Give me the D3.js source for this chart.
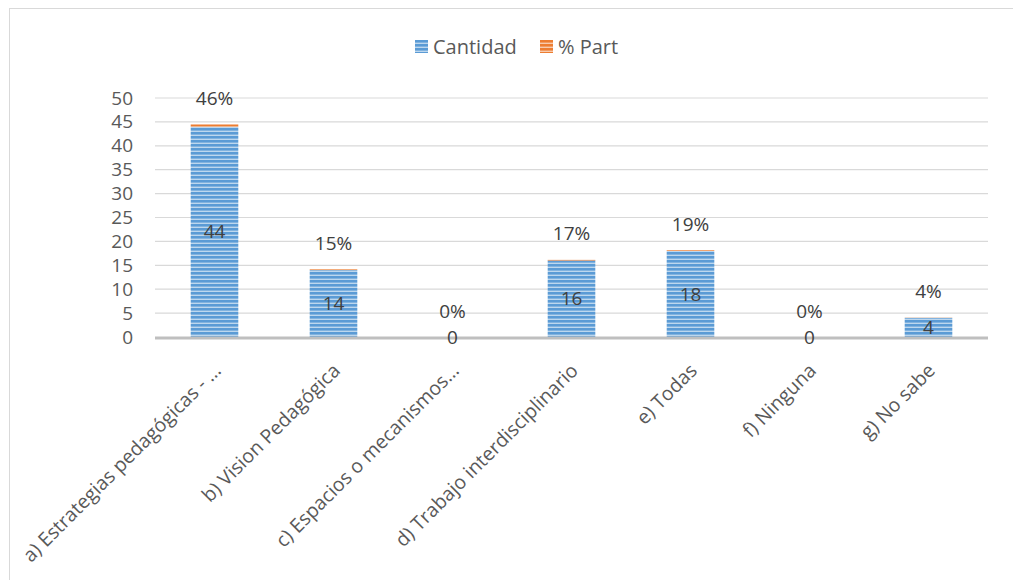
<!DOCTYPE html>
<html>
<head>
<meta charset="utf-8">
<script src="https://cdn.jsdelivr.net/npm/d3@7"></script>
<style>
  body { margin: 0; background: #fff; }
  svg { display: block; font-family: "Open Sans", sans-serif; }
</style>
</head>
<body>
<div id="chart"></div>
<script>
const categories = [
  "a) Estrategias pedagógicas - …",
  "b) Vision Pedagógica",
  "c) Espacios o mecanismos…",
  "d) Trabajo interdisciplinario",
  "e) Todas",
  "f) Ninguna",
  "g) No sabe"
];
const cantidad = [44, 14, 0, 16, 18, 0, 4];
const part = [0.46, 0.15, 0, 0.17, 0.19, 0, 0.04];
const yTicks = [0, 5, 10, 15, 20, 25, 30, 35, 40, 45, 50];
const seriesNames = ["Cantidad", "% Part"];

const width = 1013, height = 580;
const textColor = "#595959";
const blue = "#5b9bd5", orange = "#ed7d31";

const svg = d3.select("#chart").append("svg")
  .attr("width", width)
  .attr("height", height);

// striped fills like the excel pattern
const defs = svg.append("defs");
function stripes(id, dark, light) {
  const p = defs.append("pattern")
    .attr("id", id)
    .attr("patternUnits", "userSpaceOnUse")
    .attr("width", 8).attr("height", 4);
  p.append("rect").attr("width", 8).attr("height", 4).attr("fill", dark);
  p.append("rect").attr("y", 2.6).attr("width", 8).attr("height", 1.4).attr("fill", light);
}
stripes("stripeBlue", blue, "#bdd7ee");
stripes("stripeOrange", orange, "#f8cbad");

// chart frame
svg.append("rect")
  .attr("x", 9.5).attr("y", 8.5)
  .attr("width", width).attr("height", height)
  .attr("fill", "none")
  .attr("stroke", "#d9d9d9");

const x = d3.scaleBand()
  .domain(categories)
  .range([155, 988])
  .paddingInner(0.6)
  .paddingOuter(0.3);

const y = d3.scaleLinear().domain([0, 50]).range([337, 98]);

// gridlines
svg.append("g")
  .selectAll("line")
  .data(yTicks.slice(1))
  .join("line")
  .attr("x1", 155).attr("x2", 988)
  .attr("y1", d => y(d)).attr("y2", d => y(d))
  .attr("stroke", "#d9d9d9")
  .attr("stroke-width", 1.2);

// y axis labels
const yAxis = svg.append("g")
  .attr("transform", "translate(155,0)")
  .call(d3.axisLeft(y).tickValues(yTicks).tickSize(0).tickPadding(22));
yAxis.select(".domain").remove();
yAxis.selectAll("text")
  .attr("fill", textColor)
  .style("font-size", "19px")
  .style("font-family", "Open Sans, sans-serif");

// stacked bars
const stackData = categories.map((c, i) => ({ cat: c, Cantidad: cantidad[i], Part: part[i] }));
const stacked = d3.stack().keys(["Cantidad", "Part"])(stackData);
const fills = ["url(#stripeBlue)", "url(#stripeOrange)"];

svg.append("g")
  .selectAll("g")
  .data(stacked)
  .join("g")
  .attr("fill", (d, i) => fills[i])
  .selectAll("rect")
  .data(d => d)
  .join("rect")
  .attr("x", d => x(d.data.cat))
  .attr("width", x.bandwidth())
  .attr("y", d => y(d[1]))
  .attr("height", d => y(d[0]) - y(d[1]));

// x axis line
svg.append("line")
  .attr("x1", 155).attr("x2", 988)
  .attr("y1", y(0) + 1).attr("y2", y(0) + 1)
  .attr("stroke", "#bfbfbf")
  .attr("stroke-width", 3);

// value labels
svg.append("g")
  .selectAll("text")
  .data(stackData)
  .join("text")
  .attr("x", d => x(d.cat) + x.bandwidth() / 2)
  .attr("y", d => y(d.Cantidad / 2))
  .attr("dy", "0.35em")
  .attr("text-anchor", "middle")
  .attr("fill", "#404040")
  .style("font-size", "19px")
  .text(d => d.Cantidad);

svg.append("g")
  .selectAll("text")
  .data(stackData)
  .join("text")
  .attr("x", d => x(d.cat) + x.bandwidth() / 2)
  .attr("y", d => y(d.Cantidad + d.Part) - 26)
  .attr("dy", "0.35em")
  .attr("text-anchor", "middle")
  .attr("fill", "#404040")
  .style("font-size", "19px")
  .text(d => d3.format(".0%")(d.Part));

// category labels, rotated
svg.append("g")
  .selectAll("text")
  .data(categories)
  .join("text")
  .attr("transform", d => `translate(${x(d) + x.bandwidth() / 2 + 3},${367}) rotate(-45)`)
  .attr("dy", "0.35em")
  .attr("text-anchor", "end")
  .attr("fill", textColor)
  .style("font-size", "19.5px")
  .text(d => d);

// legend
const legend = svg.append("g");
const legendX = [415, 540];
seriesNames.forEach((name, i) => {
  legend.append("rect")
    .attr("x", legendX[i]).attr("y", 40)
    .attr("width", 13).attr("height", 13)
    .attr("fill", fills[i]);
  legend.append("text")
    .attr("x", legendX[i] + 18).attr("y", 46.5)
    .attr("dy", "0.35em")
    .attr("fill", textColor)
    .style("font-size", "20px")
    .text(name);
});
</script>
</body>
</html>
